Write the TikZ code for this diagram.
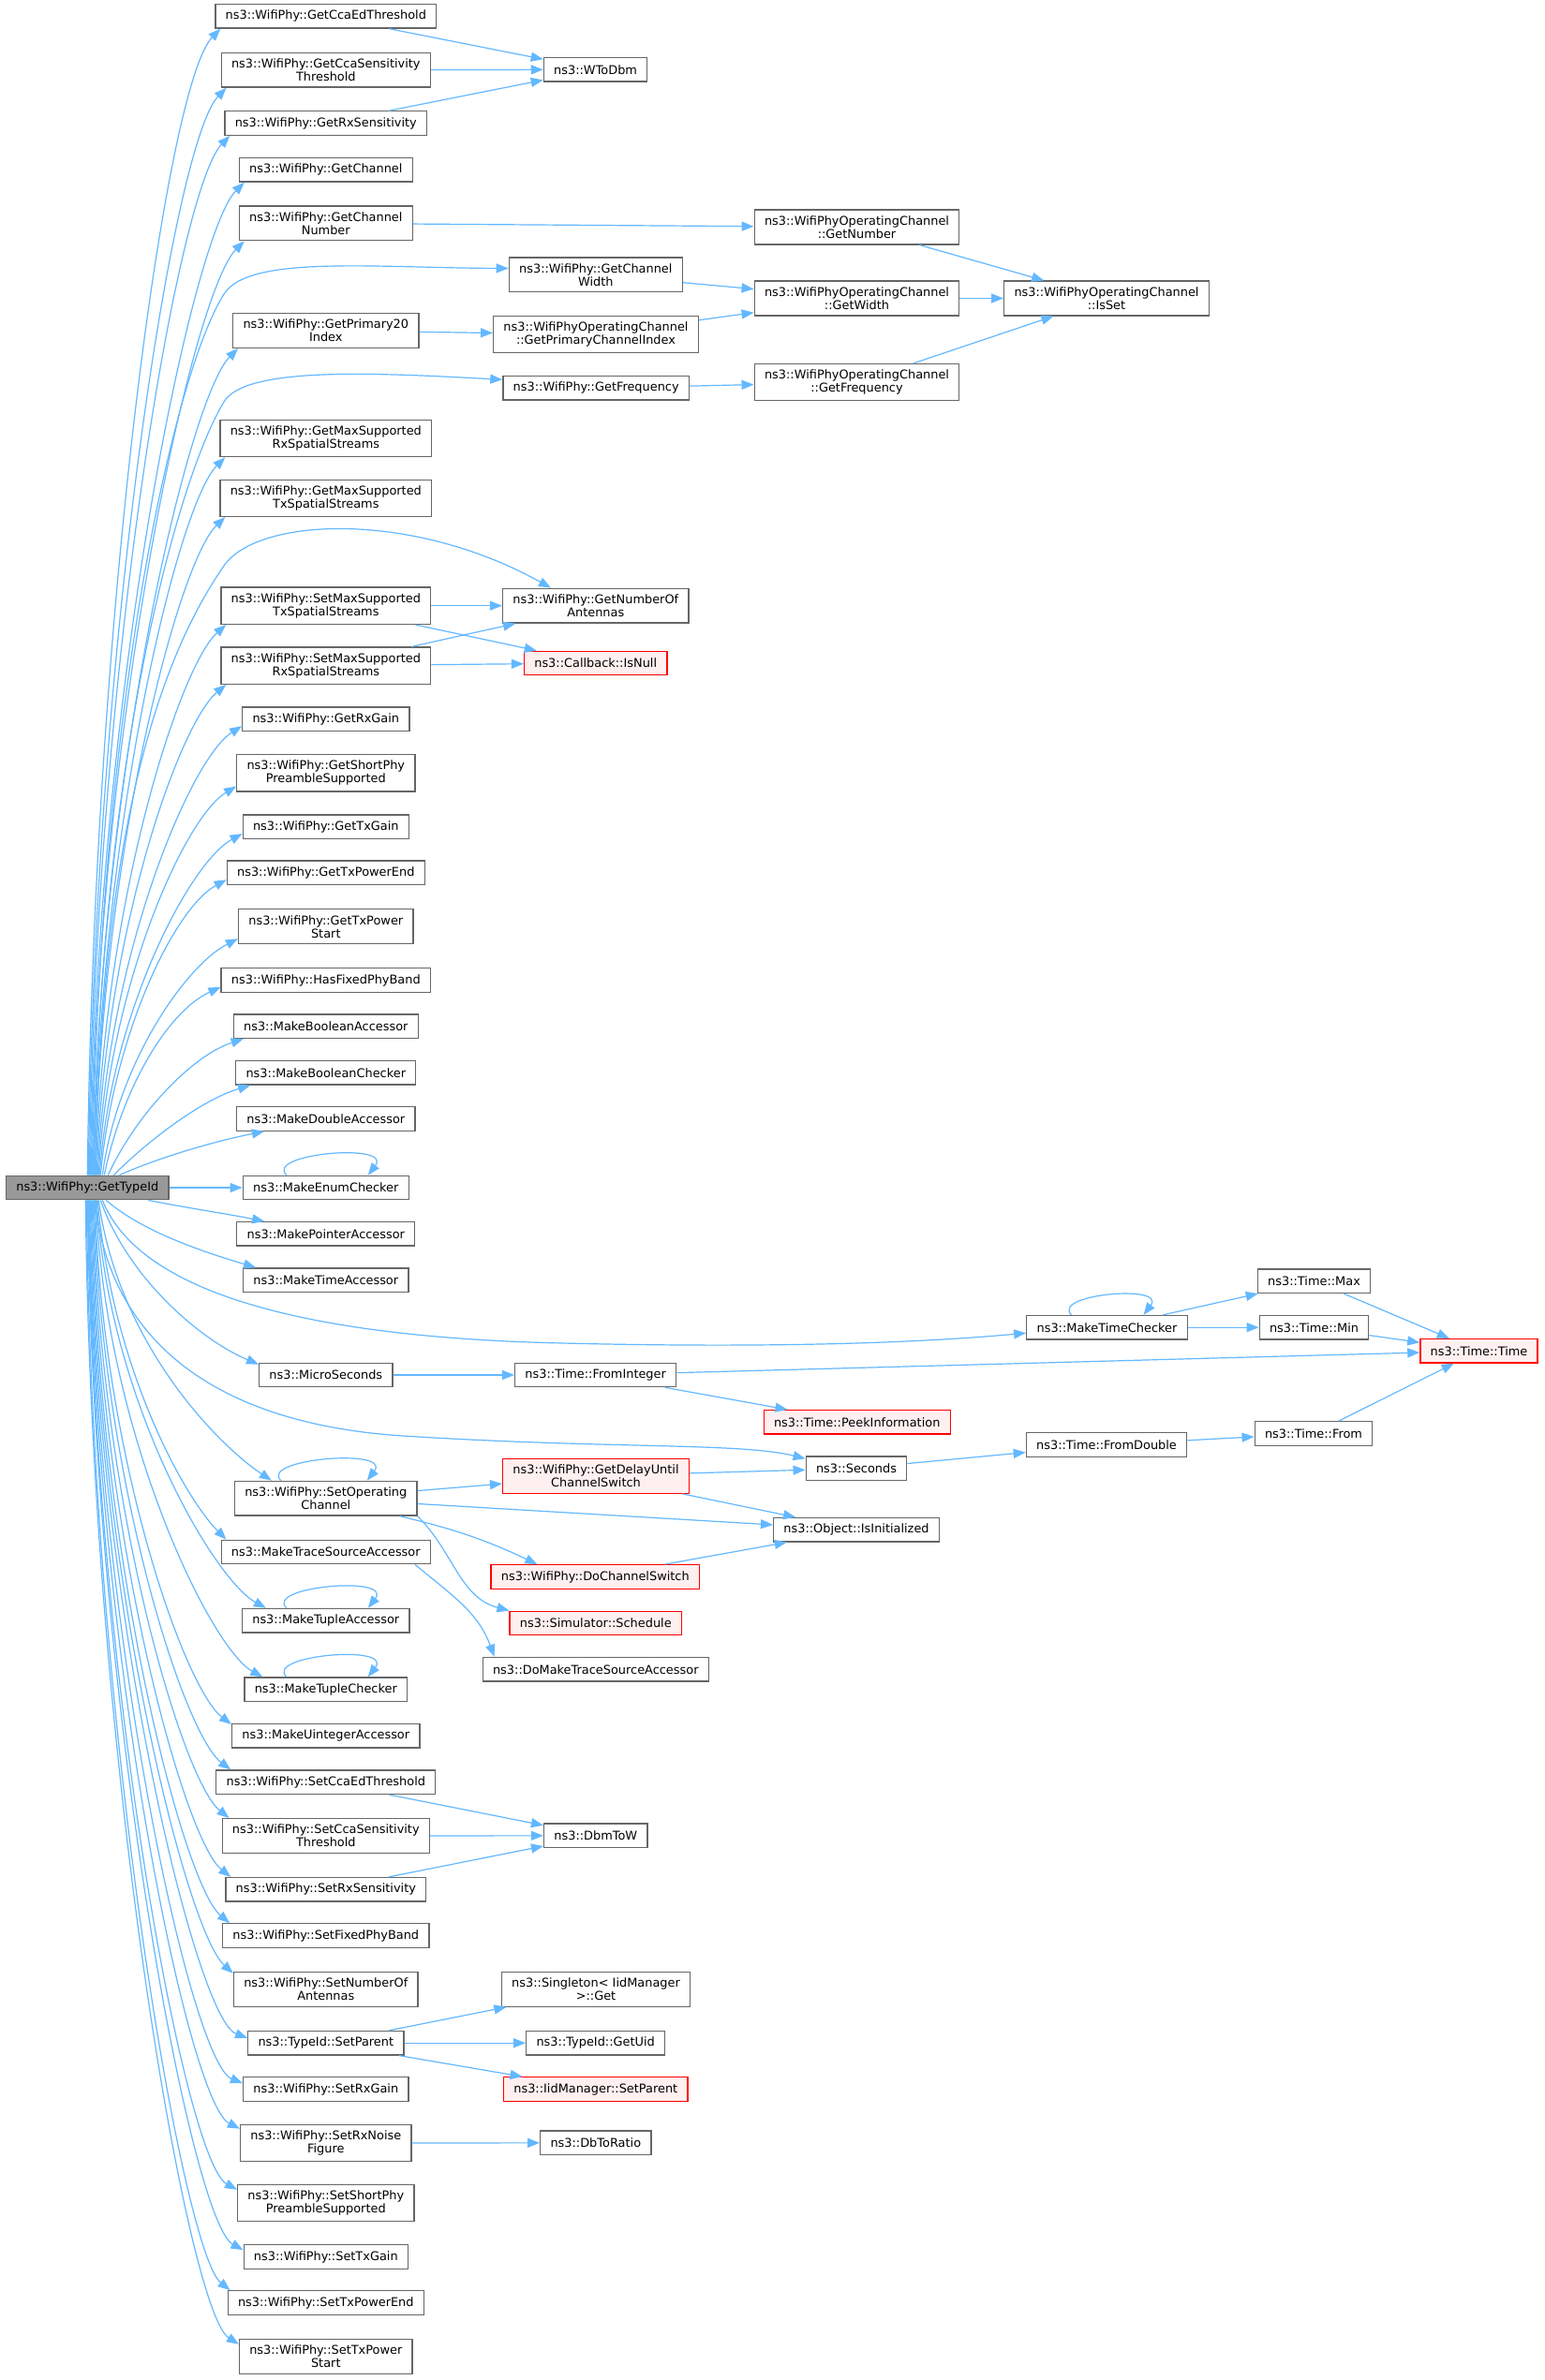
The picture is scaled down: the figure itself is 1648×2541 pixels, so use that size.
\documentclass[tikz,border=0pt]{standalone}
\usepackage{fontspec}
\setmainfont{DejaVu Sans}
\usetikzlibrary{arrows.meta}
\definecolor{callblue}{HTML}{63B8FF}
\definecolor{boxgray}{HTML}{666666}
\definecolor{rootgray}{HTML}{999999}
\definecolor{missred}{HTML}{FF0000}
\definecolor{missfill}{HTML}{FFF0F0}
\tikzset{
  fn/.style={draw=boxgray, line width=0.65pt, fill=white, align=center,
    font=\fontsize{6.45}{7}\selectfont, inner xsep=5.4pt, inner ysep=3.2pt,
    minimum height=12.75pt},
  fnroot/.style={fn, fill=rootgray},
  fnred/.style={fn, draw=missred, fill=missfill},
  call/.style={draw=callblue, line width=0.6pt, -{Triangle[length=6.5pt,width=5pt]}}
}
\begin{document}
\begin{tikzpicture}[x=0.5pt, y=0.5pt]
        \path[use as bounding box, fill=white] (0,0) rectangle (1648,-2541);

        \node[fnroot] (typeid) at (93.3,-1268) {ns3::WifiPhy::GetTypeId};

        \node[fn] (getCcaEd) at (347.8,-17.3) {ns3::WifiPhy::GetCcaEdThreshold};
        \node[fn] (getCcaSens) at (347.8,-74.7) {ns3::WifiPhy::GetCcaSensitivity\\Threshold};
        \node[fn] (getRxSens) at (347.8,-131.6) {ns3::WifiPhy::GetRxSensitivity};
        \node[fn] (getChan) at (347.8,-181.4) {ns3::WifiPhy::GetChannel};
        \node[fn] (getChanNum) at (347.8,-238.4) {ns3::WifiPhy::GetChannel\\Number};
        \node[fn] (getPrim20) at (347.8,-353) {ns3::WifiPhy::GetPrimary20\\Index};
        \node[fn] (getMaxRx) at (347.8,-468) {ns3::WifiPhy::GetMaxSupported\\RxSpatialStreams};
        \node[fn] (getMaxTx) at (347.8,-531.8) {ns3::WifiPhy::GetMaxSupported\\TxSpatialStreams};
        \node[fn] (setMaxTx) at (347.8,-646.7) {ns3::WifiPhy::SetMaxSupported\\TxSpatialStreams};
        \node[fn] (setMaxRx) at (347.8,-710.7) {ns3::WifiPhy::SetMaxSupported\\RxSpatialStreams};
        \node[fn] (getRxGain) at (347.8,-767.8) {ns3::WifiPhy::GetRxGain};
        \node[fn] (getShortPre) at (347.8,-825.3) {ns3::WifiPhy::GetShortPhy\\PreambleSupported};
        \node[fn] (getTxGain) at (347.8,-882.7) {ns3::WifiPhy::GetTxGain};
        \node[fn] (getTxEnd) at (347.8,-931.8) {ns3::WifiPhy::GetTxPowerEnd};
        \node[fn] (getTxStart) at (347.8,-989.2) {ns3::WifiPhy::GetTxPower\\Start};
        \node[fn] (hasFixed) at (347.8,-1046.5) {ns3::WifiPhy::HasFixedPhyBand};
        \node[fn] (mkBoolAcc) at (347.8,-1095.8) {ns3::MakeBooleanAccessor};
        \node[fn] (mkBoolChk) at (347.8,-1145.3) {ns3::MakeBooleanChecker};
        \node[fn] (mkDblAcc) at (347.8,-1194.5) {ns3::MakeDoubleAccessor};
        \node[fn] (mkEnumChk) at (347.8,-1268) {ns3::MakeEnumChecker};
        \node[fn] (mkPtrAcc) at (347.8,-1317.3) {ns3::MakePointerAccessor};
        \node[fn] (mkTimeAcc) at (347.8,-1366.7) {ns3::MakeTimeAccessor};
        \node[fn] (microSec) at (347.8,-1468) {ns3::MicroSeconds};
        \node[fn] (setOpChan) at (347.8,-1599.7) {ns3::WifiPhy::SetOperating\\Channel};
        \node[fn] (mkTraceAcc) at (347.8,-1657) {ns3::MakeTraceSourceAccessor};
        \node[fn] (mkTupleAcc) at (347.8,-1730.2) {ns3::MakeTupleAccessor};
        \node[fn] (mkTupleChk) at (347.8,-1803.7) {ns3::MakeTupleChecker};
        \node[fn] (mkUintAcc) at (347.8,-1853.3) {ns3::MakeUintegerAccessor};
        \node[fn] (setCcaEd) at (347.8,-1902.7) {ns3::WifiPhy::SetCcaEdThreshold};
        \node[fn] (setCcaSens) at (347.8,-1960) {ns3::WifiPhy::SetCcaSensitivity\\Threshold};
        \node[fn] (setRxSens) at (347.8,-2017.3) {ns3::WifiPhy::SetRxSensitivity};
        \node[fn] (setFixed) at (347.8,-2066.5) {ns3::WifiPhy::SetFixedPhyBand};
        \node[fn] (setNumAnt) at (347.8,-2123.8) {ns3::WifiPhy::SetNumberOf\\Antennas};
        \node[fn] (setParent) at (347.8,-2181.2) {ns3::TypeId::SetParent};
        \node[fn] (setRxGain) at (347.8,-2230.5) {ns3::WifiPhy::SetRxGain};
        \node[fn] (setRxNoise) at (347.8,-2288) {ns3::WifiPhy::SetRxNoise\\Figure};
        \node[fn] (setShortPre) at (347.8,-2352) {ns3::WifiPhy::SetShortPhy\\PreambleSupported};
        \node[fn] (setTxGain) at (347.8,-2409.5) {ns3::WifiPhy::SetTxGain};
        \node[fn] (setTxEnd) at (347.8,-2458.5) {ns3::WifiPhy::SetTxPowerEnd};
        \node[fn] (setTxStart) at (347.8,-2515.8) {ns3::WifiPhy::SetTxPower\\Start};

        \node[fn] (wToDbm) at (635.6,-74.3) {ns3::WToDbm};
        \node[fn] (getChanWidth) at (635.8,-293.3) {ns3::WifiPhy::GetChannel\\Width};
        \node[fn] (opPrimIdx) at (636,-357) {ns3::WifiPhyOperatingChannel\\::GetPrimaryChannelIndex};
        \node[fn] (getFreq) at (636.2,-414.3) {ns3::WifiPhy::GetFrequency};
        \node[fn] (getNumAnt) at (635.8,-646.7) {ns3::WifiPhy::GetNumberOf\\Antennas};
        \node[fnred] (isNull) at (635.7,-708) {ns3::Callback::IsNull};
        \node[fn] (fromInteger) at (635.7,-1468) {ns3::Time::FromInteger};
        \node[fnred] (delaySwitch) at (636,-1575.8) {ns3::WifiPhy::GetDelayUntil\\ChannelSwitch};
        \node[fnred] (doSwitch) at (635.3,-1683.5) {ns3::WifiPhy::DoChannelSwitch};
        \node[fnred] (schedule) at (635.8,-1733) {ns3::Simulator::Schedule};
        \node[fn] (doMkTrace) at (635.8,-1782.2) {ns3::DoMakeTraceSourceAccessor};
        \node[fn] (dbmToW) at (635.8,-1959.8) {ns3::DbmToW};
        \node[fn] (singletonGet) at (636,-2123.8) {ns3::Singleton< IidManager\\>::Get};
        \node[fn] (getUid) at (635.7,-2181.2) {ns3::TypeId::GetUid};
        \node[fnred] (iidSetParent) at (635.8,-2230.5) {ns3::IidManager::SetParent};
        \node[fn] (dbToRatio) at (635.8,-2287.8) {ns3::DbToRatio};

        \node[fn] (opNumber) at (914.5,-242.5) {ns3::WifiPhyOperatingChannel\\::GetNumber};
        \node[fn] (opWidth) at (914.5,-318.5) {ns3::WifiPhyOperatingChannel\\::GetWidth};
        \node[fn] (opFreq) at (914.5,-408.2) {ns3::WifiPhyOperatingChannel\\::GetFrequency};
        \node[fnred] (peekInfo) at (914.7,-1518.3) {ns3::Time::PeekInformation};
        \node[fn] (seconds) at (914,-1567.7) {ns3::Seconds};
        \node[fn] (isInit) at (914,-1633.2) {ns3::Object::IsInitialized};

        \node[fn] (opIsSet) at (1181,-318.5) {ns3::WifiPhyOperatingChannel\\::IsSet};
        \node[fn] (mkTimeChk) at (1181.5,-1417.2) {ns3::MakeTimeChecker};
        \node[fn] (fromDouble) at (1181,-1542.5) {ns3::Time::FromDouble};

        \node[fn] (timeMax) at (1402.5,-1367.7) {ns3::Time::Max};
        \node[fn] (timeMin) at (1402.5,-1417.2) {ns3::Time::Min};
        \node[fn] (timeFrom) at (1402,-1530.5) {ns3::Time::From};
        \node[fnred] (timeTime) at (1578.5,-1442.3) {ns3::Time::Time};

        \draw[call] (typeid.north) .. controls +(7,600) and +(-58,-60) .. ([xshift=3pt]getCcaEd.south west);
        \draw[call] ([xshift=0.5pt]typeid.north) .. controls +(7,568) and +(-56,-58) .. ([xshift=3pt]getCcaSens.south west);
        \draw[call] ([xshift=1pt]typeid.north) .. controls +(7,544) and +(-55,-57) .. ([xshift=3pt]getRxSens.south west);
        \draw[call] ([xshift=1.5pt]typeid.north) .. controls +(7,520) and +(-55,-55) .. ([xshift=3pt]getChan.south west);
        \draw[call] ([xshift=2pt]typeid.north) .. controls +(7,489) and +(-54,-54) .. ([xshift=3pt]getChanNum.south west);
        \draw[call] ([xshift=3pt]typeid.north) .. controls +(7,432) and +(-52,-52) .. ([xshift=3pt]getPrim20.south west);
        \draw[call] ([xshift=3.5pt]typeid.north) .. controls +(7,376) and +(-50,-50) .. ([xshift=3pt]getMaxRx.south west);
        \draw[call] ([xshift=4pt]typeid.north) .. controls +(7,344) and +(-50,-48) .. ([xshift=3pt]getMaxTx.south west);
        \draw[call] ([xshift=4.5pt]typeid.north) .. controls +(7,288) and +(-50,-45) .. ([xshift=3pt]setMaxTx.south west);
        \draw[call] ([xshift=5pt]typeid.north) .. controls +(8,257) and +(-50,-42) .. ([xshift=3pt]setMaxRx.south west);
        \draw[call] ([xshift=5.5pt]typeid.north) .. controls +(9,232) and +(-55,-35) .. ([yshift=3pt]getRxGain.south west);
        \draw[call] ([xshift=6pt]typeid.north) .. controls +(10,201) and +(-55,-33) .. ([yshift=3pt]getShortPre.south west);
        \draw[call] ([xshift=6.5pt]typeid.north) .. controls +(12,176) and +(-55,-30) .. ([yshift=3pt]getTxGain.south west);
        \draw[call] ([xshift=7pt]typeid.north) .. controls +(14,152) and +(-55,-30) .. ([yshift=3pt]getTxEnd.south west);
        \draw[call] ([xshift=8pt]typeid.north) .. controls +(16,120) and +(-55,-28) .. ([yshift=3pt]getTxStart.south west);
        \draw[call] ([xshift=9pt]typeid.north) .. controls +(20,96) and +(-55,-25) .. ([yshift=3pt]hasFixed.south west);
        \draw[call] ([xshift=11pt]typeid.north) .. controls +(30,65) and +(-55,-18) .. ([xshift=5.5pt]mkBoolAcc.south west);
        \draw[call] ([xshift=14pt]typeid.north) .. controls +(40,40) and +(-50,-15) .. ([xshift=8pt]mkBoolChk.south west);
        \draw[call] ([xshift=17pt]typeid.north) .. controls +(45,20) and +(-50,-10) .. ([xshift=15pt]mkDblAcc.south west);

        \draw[call] ([xshift=2.5pt]typeid.north) .. controls +(8,500) and (185,-400) .. (239,-314)
            .. controls (265,-272) and (400,-286) .. ([yshift=3.4pt]getChanWidth.west);
        \draw[call] ([xshift=3.2pt]typeid.north) .. controls +(8,450) and (190,-510) .. (239,-429)
            .. controls (262,-391) and (400,-398) .. ([yshift=4.5pt]getFreq.west);
        \draw[call] ([xshift=4.2pt]typeid.north) .. controls +(8,400) and (180,-690) .. (239,-604)
            .. controls (275,-552) and (440,-545) .. ([xshift=26pt]getNumAnt.north west);

        \draw[call] (typeid) -- (mkEnumChk);

        \draw[call] ([xshift=32.5pt]typeid.south) .. controls +(40,-8) and +(-40,8) .. ([xshift=15pt]mkPtrAcc.north west);
        \draw[call] ([xshift=10pt]typeid.south) .. controls +(40,-35) and +(-50,15) .. ([xshift=7pt]mkTimeAcc.north west);
        \draw[call] ([xshift=7pt]typeid.south) .. controls +(30,-85) and +(-60,25) .. ([yshift=-1pt]microSec.north west);
        \draw[call] ([xshift=6pt]typeid.south) .. controls +(20,-150) and +(-60,40) .. ([xshift=20pt]setOpChan.north west);
        \draw[call] ([xshift=5.5pt]typeid.south) .. controls +(15,-178) and +(-45,45) .. ([xshift=3pt]mkTraceAcc.north west);
        \draw[call] ([xshift=5pt]typeid.south) .. controls +(12,-214) and +(-55,30) .. ([xshift=13pt]mkTupleAcc.north west);
        \draw[call] ([xshift=4.5pt]typeid.south) .. controls +(10,-250) and +(-55,30) .. ([xshift=10pt]mkTupleChk.north west);
        \draw[call] ([xshift=4pt]typeid.south) .. controls +(8,-274) and +(-50,38) .. ([yshift=-0.5pt]mkUintAcc.north west);
        \draw[call] ([xshift=3.5pt]typeid.south) .. controls +(8,-298) and +(-50,38) .. ([xshift=8pt]setCcaEd.north west);
        \draw[call] ([xshift=3pt]typeid.south) .. controls +(7,-323) and +(-50,40) .. ([xshift=4pt]setCcaSens.north west);
        \draw[call] ([xshift=2.5pt]typeid.south) .. controls +(7,-355) and +(-50,40) .. ([xshift=3pt]setRxSens.north west);
        \draw[call] ([xshift=2pt]typeid.south) .. controls +(7,-379) and +(-50,42) .. ([xshift=4pt]setFixed.north west);
        \draw[call] ([xshift=1.5pt]typeid.south) .. controls +(7,-403) and +(-50,45) .. ([yshift=-1pt]setNumAnt.north west);
        \draw[call] ([xshift=1pt]typeid.south) .. controls +(7,-435) and +(-55,20) .. ([yshift=-4pt]setParent.north west);
        \draw[call] ([xshift=0.75pt]typeid.south) .. controls +(7,-459) and +(-55,22) .. ([yshift=-3.5pt]setRxGain.north west);
        \draw[call] ([xshift=0.5pt]typeid.south) .. controls +(7,-484) and +(-55,28) .. ([yshift=-2.5pt]setRxNoise.north west);
        \draw[call] ([xshift=0.25pt]typeid.south) .. controls +(7,-515) and +(-55,30) .. ([yshift=-3pt]setShortPre.north west);
        \draw[call] (typeid.south) .. controls +(7,-547) and +(-55,30) .. ([yshift=-3pt]setTxGain.north west);
        \draw[call] ([xshift=-0.5pt]typeid.south) .. controls +(6,-571) and +(-50,40) .. ([xshift=1.5pt]setTxEnd.north west);
        \draw[call] ([xshift=-1pt]typeid.south) .. controls +(6,-595) and +(-55,35) .. ([yshift=-3pt]setTxStart.north west);

        \draw[call] ([xshift=8pt]typeid.south) .. controls +(40,-100) and (330,-1428) .. (600,-1434)
            .. controls (850,-1440) and (1000,-1432) .. ([yshift=-3pt]mkTimeChk.west);
        \draw[call] ([xshift=4pt]typeid.south) .. controls +(15,-150) and (230,-1520) .. (430,-1533)
            .. controls (650,-1547) and (790,-1540) .. ([yshift=-1.5pt]seconds.north west);

        \draw[call] (getCcaEd) -- (wToDbm);
        \draw[call] (getCcaSens) -- (wToDbm);
        \draw[call] (getRxSens) -- (wToDbm);
        \draw[call] (getChanNum) -- (opNumber);
        \draw[call] (getChanWidth) -- (opWidth);
        \draw[call] (getPrim20) -- (opPrimIdx);
        \draw[call] (opPrimIdx) -- (opWidth);
        \draw[call] (getFreq) -- (opFreq);
        \draw[call] (opNumber) -- (opIsSet);
        \draw[call] (opWidth) -- (opIsSet);
        \draw[call] (opFreq) -- (opIsSet);
        \draw[call] (setMaxTx) -- (getNumAnt);
        \draw[call] (setMaxTx) -- (isNull);
        \draw[call] (setMaxRx) -- (getNumAnt);
        \draw[call] (setMaxRx) -- (isNull);

        \draw[call] (mkTimeChk) -- (timeMax);
        \draw[call] (mkTimeChk) -- (timeMin);
        \draw[call] (timeMax) -- (timeTime);
        \draw[call] (timeMin) -- (timeTime);
        \draw[call] (microSec) -- (fromInteger);
        \draw[call] (fromInteger) -- (timeTime);
        \draw[call] (fromInteger) -- (peekInfo);
        \draw[call] (seconds) -- (fromDouble);
        \draw[call] (fromDouble) -- (timeFrom);
        \draw[call] (timeFrom) -- (timeTime);

        \draw[call] (setOpChan) -- (delaySwitch);
        \draw[call] (setOpChan) -- (isInit);
        \draw[call] ([xshift=-9.5pt]setOpChan.south east) to[bend left=6] ([xshift=25pt]doSwitch.north west);
        \draw[call] (setOpChan.south east) to[out=-45, in=165] (schedule.north west);
        \draw[call] (delaySwitch) -- (seconds);
        \draw[call] (delaySwitch) -- (isInit);
        \draw[call] (doSwitch) -- (isInit);
        \draw[call] ([xshift=-8.5pt]mkTraceAcc.south east) to[out=-40, in=110] ([xshift=6.5pt]doMkTrace.north west);

        \draw[call] (setCcaEd) -- (dbmToW);
        \draw[call] (setCcaSens) -- (dbmToW);
        \draw[call] (setRxSens) -- (dbmToW);
        \draw[call] (setParent) -- (singletonGet);
        \draw[call] (setParent) -- (getUid);
        \draw[call] (setParent) -- (iidSetParent);
        \draw[call] (setRxNoise) -- (dbToRatio);

        \draw[call] ([xshift=-21pt]mkEnumChk.north) .. controls +(-24,23) and +(27,35) .. ([xshift=22.5pt]mkEnumChk.north);
        \draw[call] ([xshift=-24pt]setOpChan.north) .. controls +(-24,23) and +(27,35) .. ([xshift=22pt]setOpChan.north);
        \draw[call] ([xshift=-21pt]mkTupleAcc.north) .. controls +(-24,23) and +(27,35) .. ([xshift=22.5pt]mkTupleAcc.north);
        \draw[call] ([xshift=-21pt]mkTupleChk.north) .. controls +(-24,23) and +(27,35) .. ([xshift=22.5pt]mkTupleChk.north);
        \draw[call] ([xshift=-19pt]mkTimeChk.north) .. controls +(-22,22) and +(25,33) .. ([xshift=19.5pt]mkTimeChk.north);
    \end{tikzpicture}
\end{document}
